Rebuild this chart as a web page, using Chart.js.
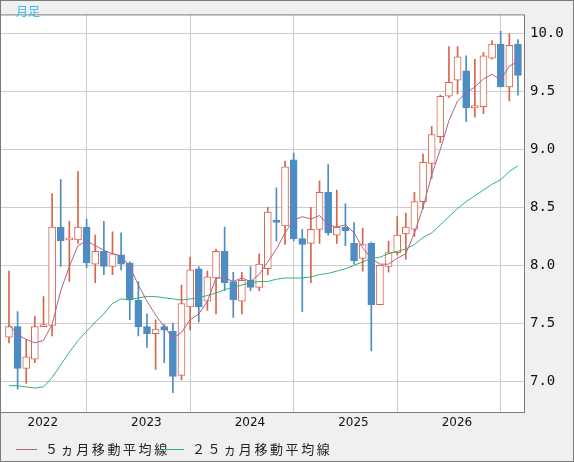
<!DOCTYPE html>
<html>
<head>
<meta charset="utf-8">
<script src="https://cdn.jsdelivr.net/npm/chart.js@4"></script>
<style>
  html, body { margin: 0; padding: 0; background: #f0f0f0; }
  #wrap { width: 574px; height: 462px; position: relative; box-sizing: border-box; }
</style>
</head>
<body>
<div id="wrap"><canvas id="chart" width="574" height="462"></canvas></div>
<script>
// 月足 Oct 2021 .. Sep 2026 (index 0 = 2021/10)
const opens  = [7.38,7.47,7.11,7.19,7.47,7.48,8.33,8.22,8.22,8.33,8.01,8.12,7.99,8.09,8.02,7.70,7.47,7.41,7.47,7.43,
                7.05,7.64,7.97,7.69,7.89,8.12,7.86,7.69,7.87,7.81,7.97,8.39,8.34,8.91,8.23,8.19,8.31,8.63,8.26,8.33,
                8.19,8.06,8.19,7.66,7.99,8.11,8.27,8.31,8.55,8.88,9.11,9.46,9.60,9.68,9.36,9.37,9.79,9.91,9.54,9.91];
const closes = [7.47,7.11,7.21,7.47,7.48,8.33,8.21,8.22,8.33,8.02,8.12,7.99,8.10,8.01,7.70,7.47,7.41,7.45,7.44,7.04,
                7.67,7.96,7.64,7.90,8.12,7.85,7.70,7.87,7.81,8.01,8.46,8.37,8.85,8.23,8.18,8.31,8.63,8.28,8.33,8.30,
                8.04,8.18,7.66,8.00,8.11,8.26,8.33,8.55,8.89,9.13,9.46,9.58,9.80,9.36,9.38,9.81,9.91,9.54,9.90,9.64];
const highs  = [7.95,7.60,7.36,7.56,7.73,8.62,8.74,8.38,8.81,8.40,8.26,8.38,8.29,8.28,8.03,7.86,7.58,7.53,7.49,7.50,
                7.83,8.07,7.99,7.95,8.14,8.33,7.94,7.94,7.99,8.10,8.50,8.67,8.90,8.97,8.31,8.50,8.73,8.87,8.65,8.53,
                8.37,8.32,8.20,8.00,8.21,8.42,8.45,8.63,8.96,9.20,9.47,9.89,9.89,9.81,9.78,9.84,9.94,10.02,10.00,9.95];
const lows   = [7.33,6.93,6.98,7.16,7.47,7.39,7.99,7.86,8.19,7.98,7.85,7.92,7.92,7.96,7.53,7.39,7.29,7.10,7.16,6.90,
                7.01,7.44,7.51,7.61,7.58,7.78,7.55,7.58,7.78,7.78,7.92,8.21,8.18,8.21,7.60,7.85,8.19,8.26,8.19,8.17,
                8.01,7.95,7.26,7.66,7.94,8.09,8.05,8.25,8.49,8.75,9.06,9.45,9.48,9.24,9.28,9.31,9.78,9.54,9.42,9.47];
const ma5    = [7.49,7.40,7.36,7.33,7.35,7.49,7.78,7.99,8.17,8.21,8.17,8.13,8.10,8.08,7.99,7.83,7.69,7.57,7.47,7.37,
                7.42,7.53,7.58,7.69,7.89,7.89,7.86,7.89,7.86,7.92,8.03,8.14,8.28,8.39,8.42,8.40,8.43,8.35,8.33,8.35,
                8.28,8.15,8.06,8.01,8.01,8.06,8.10,8.28,8.50,8.78,9.00,9.25,9.42,9.49,9.54,9.61,9.65,9.60,9.72,9.76];
const ma25   = [6.96,6.96,6.95,6.94,6.95,7.03,7.14,7.25,7.35,7.43,7.51,7.58,7.67,7.71,7.70,7.72,7.73,7.73,7.72,7.71,
                7.70,7.71,7.72,7.74,7.76,7.79,7.81,7.83,7.85,7.86,7.86,7.88,7.89,7.89,7.89,7.90,7.92,7.93,7.95,7.97,
                8.00,8.03,8.06,8.07,8.10,8.12,8.14,8.18,8.24,8.28,8.35,8.42,8.49,8.55,8.60,8.65,8.70,8.74,8.81,8.86];
const yearTicks = [3, 15, 27, 39, 51];
const yearLabels = ['2022', '2023', '2024', '2025', '2026'];
const yTicks = [7.0, 7.5, 8.0, 8.5, 9.0, 9.5, 10.0];

const UP = '#d9654c', DOWN = '#4d8dc3';
const isUp = i => closes[i] >= opens[i];

const wicks = highs.map((h, i) => ({ x: i, y: [lows[i], h] }));
const bodies = opens.map((o, i) => ({ x: i, y: [Math.min(o, closes[i]), Math.max(o, closes[i])] }));

const frame = {
  id: 'frame',
  beforeDraw(chart) {
    const { ctx, chartArea: a } = chart;
    ctx.save();
    ctx.fillStyle = '#f0f0f0';
    ctx.fillRect(0, 0, chart.width, chart.height);
    ctx.fillStyle = '#ffffff';
    ctx.fillRect(a.left, a.top, a.right - a.left, a.bottom - a.top);
    ctx.restore();
  },
  afterDraw(chart) {
    const { ctx, chartArea: a } = chart;
    ctx.save();
    ctx.strokeStyle = '#7a7a7a';
    ctx.lineWidth = 1;
    ctx.strokeRect(a.left + 0.5, a.top + 0.5, a.right - a.left, a.bottom - a.top);
    ctx.strokeRect(0.5, 0.5, chart.width - 1, chart.height - 1);
    ctx.fillStyle = '#3ab8ea';
    ctx.font = '12px "Noto Sans CJK JP"';
    ctx.textBaseline = 'middle';
    ctx.fillText('月足', 16, 11);
    // legend
    ctx.font = '13px "Noto Sans CJK JP"';
    ctx.fillStyle = '#222';
    const y = 449;
    ctx.strokeStyle = '#b0608a';
    ctx.beginPath(); ctx.moveTo(16, y + 0.5); ctx.lineTo(37, y + 0.5); ctx.stroke();
    ctx.fillText('５ ヵ 月 移 動 平 均 線'.replace(/ /g, '\u2009'), 45, y);
    ctx.strokeStyle = '#35b07c';
    ctx.beginPath(); ctx.moveTo(163, y + 0.5); ctx.lineTo(184, y + 0.5); ctx.stroke();
    ctx.fillText('２ ５ ヵ 月 移 動 平 均 線'.replace(/ /g, '\u2009'), 192, y);
    ctx.restore();
  }
};

new Chart(document.getElementById('chart'), {
  type: 'bar',
  data: {
    datasets: [
      { type: 'line', data: ma5.map((v, i) => ({ x: i, y: v })), borderColor: '#b0608a', borderWidth: 1,
        pointRadius: 0, tension: 0, order: 0 },
      { type: 'line', data: ma25.map((v, i) => ({ x: i, y: v })), borderColor: '#35b07c', borderWidth: 1,
        pointRadius: 0, tension: 0, order: 0 },
      { data: bodies, grouped: false, barThickness: 7, minBarLength: 2, borderSkipped: false, borderWidth: 1,
        backgroundColor: c => isUp(c.dataIndex) ? '#ffffff' : DOWN,
        borderColor: c => isUp(c.dataIndex) ? UP : DOWN, order: 1 },
      { data: wicks, grouped: false, barThickness: 1, borderWidth: 0,
        backgroundColor: c => isUp(c.dataIndex) ? UP : DOWN, order: 2 }
    ]
  },
  options: {
    responsive: false,
    animation: false,
    layout: { padding: { bottom: 26 } },
    plugins: { legend: { display: false }, tooltip: { enabled: false } },
    scales: {
      x: {
        type: 'linear', min: -1.04, max: 59.7, offset: false,
        afterBuildTicks: s => { s.ticks = yearTicks.map(v => ({ value: v })); },
        afterFit: s => { s.height = 24; },
        ticks: { callback: v => yearLabels[yearTicks.indexOf(v)], labelOffset: 8, padding: 4, maxRotation: 0,
                 autoSkip: false, color: '#111', font: { family: 'DejaVu Sans', size: 12 } },
        grid: { color: '#cccccc', drawTicks: false },
        border: { display: false }
      },
      y: {
        position: 'right', min: 6.733, max: 10.167,
        afterBuildTicks: s => { s.ticks = yTicks.map(v => ({ value: v })); },
        afterFit: s => { s.width = 50; },
        ticks: { callback: v => v.toFixed(1), padding: 6, color: '#111',
                 font: { family: 'DejaVu Sans Mono', size: 14 } },
        grid: { color: '#cccccc', drawTicks: false },
        border: { display: false }
      }
    }
  },
  plugins: [frame]
});
</script>
</body>
</html>
